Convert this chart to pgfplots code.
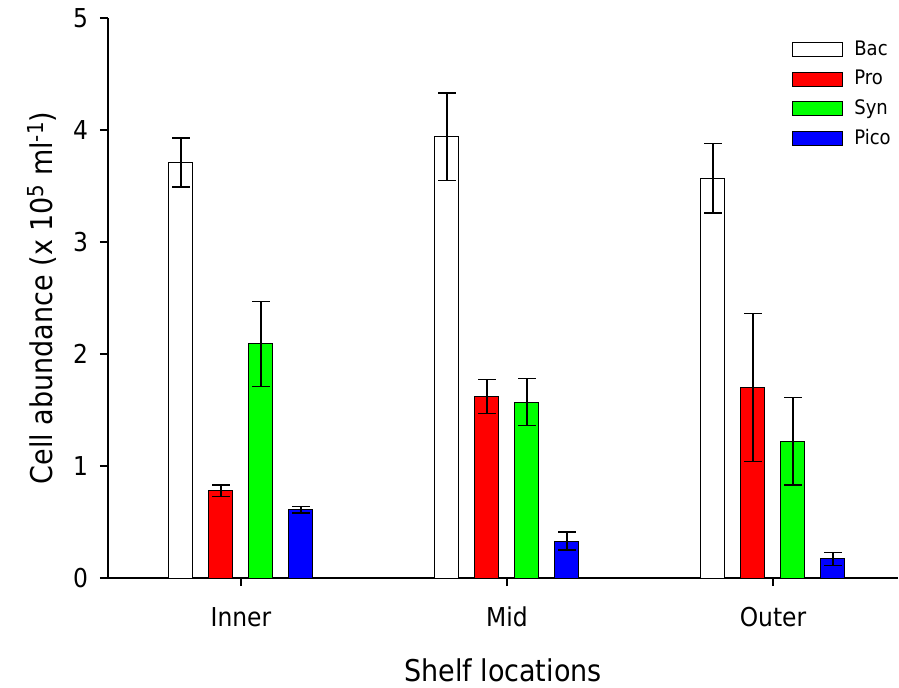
\documentclass[border=0pt]{standalone}
\usepackage{fontspec}
\setmainfont{DejaVu Sans Condensed}
\usepackage{pgfplots}
\usepackage{pgfplotstable}
\pgfplotsset{compat=1.18}

% Cell abundance (x 10^5 per ml): mean and error for each shelf location
\pgfplotstableread{
grp bac bacerr pro proerr syn synerr pico picoerr
0   3.71 0.22  0.78 0.05  2.09 0.38  0.61 0.03
1   3.94 0.39  1.62 0.15  1.57 0.21  0.33 0.08
2   3.57 0.31  1.70 0.66  1.22 0.39  0.17 0.06
}\abund

\definecolor{bacfill}{RGB}{255,255,255}
\definecolor{profill}{RGB}{255,0,0}
\definecolor{synfill}{RGB}{0,255,0}
\definecolor{picofill}{RGB}{0,0,255}

\newcommand{\labelsup}[1]{\raisebox{0.55ex}{\fontsize{11}{13}\selectfont #1}}

\pgfplotsset{
  cellbar/.style={
    draw=black, line width=0.5pt, fill=#1,
    legend image code/.code={\draw[##1] (0pt,-3.5pt) rectangle (25pt,3.5pt);},
    error bars/.cd, y dir=both, y explicit,
    error mark=|,
    error bar style={black, line width=0.7pt},
    error mark options={black, mark size=4.4pt, line width=0.7pt},
  },
}

\begin{document}
\begin{tikzpicture}
\useasboundingbox (-54pt,-54.5pt) rectangle (395.5pt,289pt);
\begin{axis}[
  at={(0pt,0pt)}, anchor=south west,
  scale only axis, width=395pt, height=280pt,
  xmin=-0.5, xmax=2.47, ymin=0, ymax=5,
  axis lines*=left,
  axis line style={line width=0.6pt},
  ybar=8pt, bar width=12pt,
  xtick={0,1,2}, xticklabels={Inner,Mid,Outer},
  ytick={0,1,2,3,4,5},
  tick align=outside,
  major tick length=4pt,
  tick style={black, line width=0.6pt},
  /pgf/number format/assume math mode=true,
  ticklabel style={font=\fontsize{13}{15}\selectfont},
  xticklabel style={yshift=-7pt},
  yticklabel style={xshift=-2.5pt},
  label style={font=\fontsize{15}{18}\selectfont},
  xlabel={Shelf locations},
  xlabel style={at={(axis description cs:0.5,-0.164)}, anchor=center},
  ylabel={Cell abundance (x 10\labelsup{5} ml\labelsup{-1})},
  ylabel style={at={(axis description cs:-0.0835,0.5)}, anchor=center},
  legend style={draw=none, fill=none, at={(axis description cs:0.8658,0.971)},
    anchor=north west, inner sep=0pt, row sep=0pt,
    font=\fontsize{10}{12}\selectfont,
    nodes={inner sep=0pt, minimum height=14.85pt}},
  legend cell align=left,
  /tikz/every even column/.append style={column sep=0pt},
  /tikz/every odd column/.append style={column sep=5.5pt},
]
\addplot[cellbar=bacfill]  table[x=grp, y=bac,  y error=bacerr]  {\abund};
\addplot[cellbar=profill]  table[x=grp, y=pro,  y error=proerr]  {\abund};
\addplot[cellbar=synfill]  table[x=grp, y=syn,  y error=synerr]  {\abund};
\addplot[cellbar=picofill] table[x=grp, y=pico, y error=picoerr] {\abund};
\legend{Bac,Pro,Syn,Pico}
\end{axis}
\end{tikzpicture}
\end{document}
